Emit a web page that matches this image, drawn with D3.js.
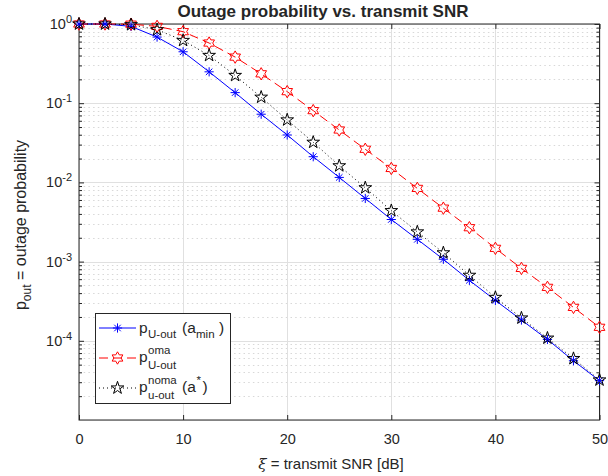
<!DOCTYPE html>
<html><head><meta charset="utf-8">
<script src="https://cdn.jsdelivr.net/npm/d3@7"></script>
<style>
body{margin:0;background:#fff;}
text{font-family:"Liberation Sans",Arial,Helvetica,sans-serif;fill:#262626;}
</style></head>
<body><svg id="c" width="608" height="476"></svg>
<script>
const snr = [0,2.5,5,7.5,10,12.5,15,17.5,20,22.5,25,27.5,30,32.5,35,37.5,40,42.5,45,47.5,50];
const pUoutAmin = [1,1,0.933,0.684,0.446,0.249,0.136,0.0726,0.0397,0.0211,0.01156,0.00627,0.0034,0.00191,0.00107,0.00058,0.000324,0.000183,0.000104,0.000056,0.0000314];
const pOma = [1,1,0.995,0.933,0.80,0.575,0.382,0.235,0.140,0.0806,0.0459,0.0262,0.0150,0.0084,0.00473,0.00268,0.00147,0.00082,0.000473,0.000264,0.000148];
const pNoma = [1,1,0.98,0.847,0.620,0.401,0.224,0.119,0.0615,0.0321,0.0162,0.00855,0.0044,0.00237,0.00129,0.000671,0.000353,0.000194,0.000108,0.0000597,0.000032];
const xTicks = [0,10,20,30,40,50];
const yDecades = [1e-4,1e-3,1e-2,1e-1,1];

(function(){
const svg = d3.select("#c");
const L=79, R=599.5, T=24, B=420;
const x = d3.scaleLinear().domain([0,50]).range([L,R]);
const y = d3.scaleLog().domain([1e-5,1]).range([B,T]);

const minor=[];
for(let e=-5;e<0;e++){for(let k=2;k<=9;k++){minor.push(k*Math.pow(10,e));}}
const allDec=[1e-5,1e-4,1e-3,1e-2,1e-1,1];

const g = svg.append("g");
g.selectAll(".mg").data(minor).enter().append("line")
 .attr("x1",L).attr("x2",R).attr("y1",d=>Math.round(y(d))+0.5).attr("y2",d=>Math.round(y(d))+0.5)
 .attr("stroke","#d8d8d8").attr("stroke-width",1).attr("stroke-dasharray","1.5,3.2");
g.selectAll(".gy").data(allDec).enter().append("line")
 .attr("x1",L).attr("x2",R).attr("y1",d=>Math.round(y(d))+0.5).attr("y2",d=>Math.round(y(d))+0.5)
 .attr("stroke","#e0e0e0").attr("stroke-width",1);
g.selectAll(".gx").data(xTicks).enter().append("line")
 .attr("y1",T).attr("y2",B).attr("x1",d=>Math.round(x(d))+0.5).attr("x2",d=>Math.round(x(d))+0.5)
 .attr("stroke","#e0e0e0").attr("stroke-width",1);

const ax = svg.append("g");
const axB = ax.append("g").attr("transform",`translate(0,${B})`)
 .call(d3.axisBottom(x).tickValues(xTicks).tickSize(-5).tickPadding(14).tickFormat(d3.format("d")));
ax.append("g").attr("transform",`translate(0,${T})`)
 .call(d3.axisTop(x).tickValues(xTicks).tickSize(-5).tickFormat(""));
ax.append("g").attr("transform",`translate(${L},0)`)
 .call(d3.axisLeft(y).tickValues(yDecades).tickSize(-5).tickFormat(""));
ax.append("g").attr("transform",`translate(${L},0)`)
 .call(d3.axisLeft(y).tickValues(minor).tickSize(-3).tickFormat(""));
ax.append("g").attr("transform",`translate(${R},0)`)
 .call(d3.axisRight(y).tickValues(yDecades).tickSize(-5).tickFormat(""));
ax.append("g").attr("transform",`translate(${R},0)`)
 .call(d3.axisRight(y).tickValues(minor).tickSize(-3).tickFormat(""));
ax.selectAll(".tick line").attr("stroke","#262626");
axB.selectAll("text").attr("font-size",14.5).attr("fill","#262626").style("font-family","'Liberation Sans',Arial,sans-serif");
ax.selectAll(".domain").remove();
svg.append("rect").attr("x",L).attr("y",T).attr("width",R-L).attr("height",B-T)
 .attr("fill","none").attr("stroke","#262626").attr("stroke-width",1);

const yl = svg.append("g");
yDecades.forEach(d=>{
  const e=Math.round(Math.log10(d));
  const t=yl.append("text").attr("x",L-7).attr("y",y(d)+5).attr("text-anchor","end").attr("font-size",14.5);
  t.append("tspan").text("10");
  t.append("tspan").attr("font-size",11).attr("dy",-6).text(String(e));
});

const line = d3.line().x((d,i)=>x(snr[i])).y(d=>y(d));
const series=[
 {v:pUoutAmin,c:"#0000ff",dash:null,m:"ast"},
 {v:pOma,c:"#ff0000",dash:"9,5",m:"hex"},
 {v:pNoma,c:"#000000",dash:"1,3",m:"pent"}
];
function hexPath(r){const p=[];for(let i=0;i<12;i++){const a=-Math.PI/2+i*Math.PI/6;const rr=i%2?r*0.577:r;p.push([rr*Math.cos(a),rr*Math.sin(a)]);}return "M"+p.map(q=>q.join(",")).join("L")+"Z";}
function astPath(r){let s="";for(let i=0;i<4;i++){const a=i*Math.PI/4;s+=`M${-r*Math.cos(a)},${-r*Math.sin(a)}L${r*Math.cos(a)},${r*Math.sin(a)}`;}return s;}
const pentSym = d3.symbol().type(d3.symbolStar).size(50)();
function mk(sel,m,c){
  if(m==="ast") sel.append("path").attr("d",astPath(4.6)).attr("stroke",c).attr("stroke-width",1).attr("fill","none");
  else if(m==="hex") sel.append("path").attr("d",hexPath(6.2)).attr("stroke",c).attr("stroke-width",1).attr("fill","none");
  else sel.append("path").attr("d",pentSym).attr("stroke",c).attr("stroke-width",1).attr("fill","none");
}
const plot=svg.append("g");
series.forEach(s=>{
  plot.append("path").attr("d",line(s.v)).attr("fill","none").attr("stroke",s.c).attr("stroke-width",1)
   .attr("stroke-dasharray",s.dash);
});
series.forEach(s=>{
  s.v.forEach((v,i)=>{const gg=plot.append("g").attr("transform",`translate(${x(snr[i])},${y(v)})`);mk(gg,s.m,s.c);});
});

svg.append("text").attr("x",323).attr("y",17).attr("text-anchor","middle").attr("font-size",17).attr("font-weight","bold").attr("fill","#000").text("Outage probability vs. transmit SNR");

const xl=svg.append("text").attr("x",331).attr("y",469).attr("text-anchor","middle").attr("font-size",15);
xl.append("tspan").attr("font-style","italic").attr("font-family","'DejaVu Serif',serif").text("ξ");
xl.append("tspan").text(" = transmit SNR [dB]");

const ylab=svg.append("text").attr("transform",`translate(26,${(T+B)/2+3}) rotate(-90)`).attr("text-anchor","middle").attr("font-size",16);
ylab.append("tspan").text("p");
ylab.append("tspan").attr("font-size",12).attr("dy",5).text("out");
ylab.append("tspan").attr("dy",-5).text(" = outage probability");

const lg=svg.append("g");
lg.append("rect").attr("x",95.5).attr("y",313.5).attr("width",135).attr("height",90).attr("fill","#fff").attr("stroke","#262626").attr("stroke-width",1);
const rows=[328,358,388];
series.forEach((s,i)=>{
  lg.append("line").attr("x1",99).attr("x2",136).attr("y1",rows[i]).attr("y2",rows[i]).attr("stroke",s.c).attr("stroke-width",1).attr("stroke-dasharray",s.dash);
  const gg=lg.append("g").attr("transform",`translate(117.5,${rows[i]})`);mk(gg,s.m,s.c);
});
function txt(xp,yp,fs,t){return lg.append("text").attr("x",xp).attr("y",yp).attr("font-size",fs).attr("fill","#000").text(t);}
txt(139,333,15.5,"p"); txt(148,338,11.5,"U-out"); txt(182,333,15.5,"(a"); txt(196,338,11.5,"min"); txt(219,333,15.5,")");
txt(139,362,15.5,"p"); txt(148,354,11.5,"oma"); txt(148,369,11.5,"U-out");
txt(139,392,15.5,"p"); txt(148,384,11.5,"noma"); txt(148,399,11.5,"u-out"); txt(182,392,15.5,"(a"); txt(196.5,384,11.5,"*"); txt(202.5,392,15.5,")");
})();
</script></body></html>
